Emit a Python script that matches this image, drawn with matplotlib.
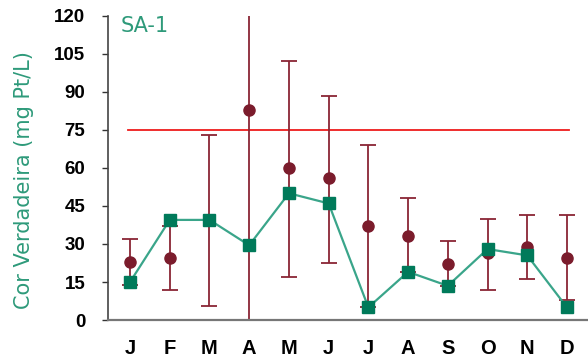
import numpy as np
import matplotlib.pyplot as plt

# Monthly colour data for station SA-1
months = ['J', 'F', 'M', 'A', 'M', 'J', 'J', 'A', 'S', 'O', 'N', 'D']
cor_verdadeira = [15, 39.5, 39.5, 29.5, 50, 46, 5, 19, 13.5, 28, 25.5, 5]
media = [23, 24.5, 39.5, 83, 60, 56, 37, 33, 22, 26.5, 29, 24.5]
minimo = [14, 12, 5.5, 0, 17, 22.5, 5, 19, 13.5, 12, 16, 8]
maximo = [32, 37, 73, 120, 102, 88.5, 69, 48, 31, 40, 41.5, 41.5]
limite = 75

teal = '#007a5a'
teal_line = '#3aa58a'
maroon = '#7b1c2c'
bar_col = '#8a2535'

x = np.arange(len(months))
minimo = np.array(minimo)
maximo = np.array(maximo)

fig = plt.figure(figsize=(5.88, 3.6), dpi=100)
ax = fig.add_axes([0.184, 0.111, 0.814, 0.845])
ax.set_xlim(-0.55, 11.5)
ax.set_ylim(0, 120)

# reference limit line
ax.plot([-0.05, 11.05], [limite, limite], color='#ee1c1c', lw=1.3, zorder=1)

# min/max range bars, caps only where the range ends inside the axis
ax.vlines(x, minimo, maximo, color=bar_col, lw=1.3, zorder=2)
low_cap = minimo > 0
high_cap = maximo < 120
ax.plot(x[low_cap], minimo[low_cap], '_', color=bar_col, ms=12, mew=1.3, zorder=2)
ax.plot(x[high_cap], maximo[high_cap], '_', color=bar_col, ms=12, mew=1.3, zorder=2)

# monthly mean
ax.plot(x, media, 'o', color=maroon, ms=8, zorder=3)

# measured values
ax.plot(x, cor_verdadeira, color=teal_line, lw=1.6, zorder=4)
ax.plot(x, cor_verdadeira, 's', color=teal, ms=8.5, zorder=5, clip_on=False)

ax.set_yticks(np.arange(0, 121, 15))
ax.set_xticks(x)
ax.set_xticklabels(months)

for lbl in ax.get_yticklabels():
    lbl.set_fontweight('bold')
    lbl.set_fontfamily('Liberation Sans')
    lbl.set_fontsize(13.5)
for lbl in ax.get_xticklabels():
    lbl.set_fontweight('bold')
    lbl.set_fontfamily('Liberation Sans')
    lbl.set_fontsize(14.5)

ax.tick_params(axis='x', length=0, pad=14)
ax.tick_params(axis='y', length=4.5, width=1, color='#333333', pad=12)

ax.spines['top'].set_visible(False)
ax.spines['right'].set_visible(False)
ax.spines['left'].set_color('#444444')
ax.spines['bottom'].set_color('#777777')
ax.spines['left'].set_linewidth(1.2)
ax.spines['bottom'].set_linewidth(1.6)

ax.set_ylabel('Cor Verdadeira (mg Pt/L)', color='#2e9a7a', fontsize=15)
ax.yaxis.set_label_coords(-0.155, 0.46)

ax.text(0.025, 1.0, 'SA-1', transform=ax.transAxes, color='#2e9a7a',
        fontsize=15, va='top', ha='left')

fig.savefig('out.png', dpi=100)
